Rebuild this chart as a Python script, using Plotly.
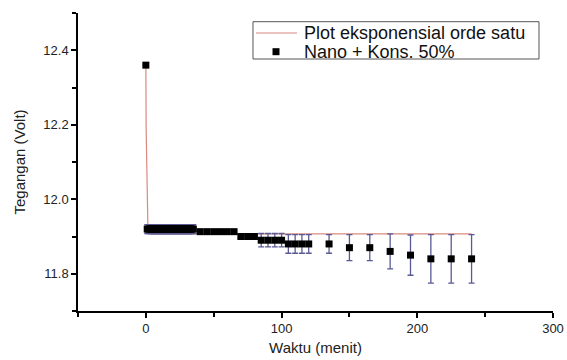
import plotly.graph_objects as go

# ---- data ----
time_min = [0,
            1, 2, 3, 4, 5, 6, 7, 8, 9, 10, 11, 12, 13, 14, 15, 16, 17, 18, 19, 20,
            21, 22, 23, 24, 25, 26, 27, 28, 29, 30, 31, 32, 33, 34, 35,
            40, 45, 50, 55, 60, 65,
            70, 75, 80,
            85, 90, 95, 100,
            105, 110, 115, 120,
            135, 150, 165, 180, 195, 210, 225, 240]
voltage = [12.36,
           11.92, 11.92, 11.92, 11.92, 11.92, 11.92, 11.92, 11.92, 11.92, 11.92,
           11.92, 11.92, 11.92, 11.92, 11.92, 11.92, 11.92, 11.92, 11.92, 11.92,
           11.92, 11.92, 11.92, 11.92, 11.92, 11.92, 11.92, 11.92, 11.92, 11.92,
           11.92, 11.92, 11.92, 11.92, 11.92,
           11.913, 11.913, 11.913, 11.913, 11.913, 11.913,
           11.90, 11.90, 11.90,
           11.89, 11.89, 11.89, 11.89,
           11.88, 11.88, 11.88, 11.88,
           11.88, 11.87, 11.87, 11.86, 11.85, 11.84, 11.84, 11.84]
voltage_err = [0,
               0.012, 0.012, 0.012, 0.012, 0.012, 0.012, 0.012, 0.012, 0.012, 0.012,
               0.012, 0.012, 0.012, 0.012, 0.012, 0.012, 0.012, 0.012, 0.012, 0.012,
               0.012, 0.012, 0.012, 0.012, 0.012, 0.012, 0.012, 0.012, 0.012, 0.012,
               0.012, 0.012, 0.012, 0.012, 0.012,
               0.005, 0.005, 0.005, 0.005, 0.005, 0.005,
               0.005, 0.005, 0.005,
               0.018, 0.018, 0.018, 0.018,
               0.025, 0.025, 0.025, 0.025,
               0.025, 0.035, 0.035, 0.047, 0.054, 0.065, 0.065, 0.065]

fit_time = [0, 0.2, 1.5, 4, 240]
fit_voltage = [12.36, 12.19, 11.93, 11.907, 11.907]

x_ticks = [0, 100, 200, 300]
y_ticks = [11.8, 12.0, 12.2, 12.4]

fit_name = "Plot eksponensial orde satu"
data_name = "Nano + Kons. 50%"

FONT = "Liberation Sans, Arial, sans-serif"
FIT_COLOR = "#d98a80"

fig = go.Figure()
fig.add_trace(go.Scatter(
    x=fit_time, y=fit_voltage, mode="lines", name=fit_name,
    line=dict(color=FIT_COLOR, width=1.2), showlegend=False,
))
fig.add_trace(go.Scatter(
    x=time_min, y=voltage, mode="markers", name=data_name,
    marker=dict(symbol="square", size=7, color="black"),
    error_y=dict(type="data", array=voltage_err, visible=True,
                 color="#5a5a96", thickness=1.3, width=3),
    showlegend=False,
))

# legend box drawn in paper coordinates (compact, like the original)
legend_shapes = [
    dict(type="rect", xref="paper", yref="paper", x0=0.3684, x1=0.9705, y0=0.8456, y1=0.9708,
         line=dict(color="#555", width=1), fillcolor="white", layer="above"),
    dict(type="line", xref="paper", yref="paper", x0=0.3747, x1=0.4611, y0=0.9329, y1=0.9329,
         line=dict(color=FIT_COLOR, width=1.2), layer="above"),
    dict(type="rect", xref="paper", yref="paper", x0=0.4095, x1=0.4242, y0=0.8584, y1=0.8819,
         line=dict(width=0), fillcolor="black", layer="above"),
]
legend_texts = [
    dict(text=fit_name, xref="paper", yref="paper", x=0.4737, y=0.9329,
         xanchor="left", yanchor="middle", showarrow=False, borderpad=0,
         font=dict(size=18, family=FONT, color="#111")),
    dict(text=data_name, xref="paper", yref="paper", x=0.4737, y=0.870,
         xanchor="left", yanchor="middle", showarrow=False, borderpad=0,
         font=dict(size=18, family=FONT, color="#111")),
]

fig.update_layout(
    width=567, height=360,
    margin=dict(l=78, r=14, t=13, b=49),
    paper_bgcolor="white", plot_bgcolor="white",
    font=dict(family=FONT, color="#222"),
    showlegend=False,
    shapes=legend_shapes,
    annotations=legend_texts,
)
fig.update_xaxes(
    range=[-50, 300], tickvals=x_ticks, automargin=False,
    ticks="outside", ticklen=5, tickwidth=1.5, tickcolor="black",
    minor=dict(ticks="outside", dtick=50, tick0=0, ticklen=4, tickwidth=1.5, tickcolor="black"),
    showline=True, linecolor="black", linewidth=1.5,
    showgrid=False, zeroline=False,
    tickfont=dict(size=13, family=FONT, color="#222"),
    title=dict(text="Waktu (menit)", font=dict(size=15, family=FONT, color="#222"), standoff=7),
)
fig.update_yaxes(
    range=[11.7, 12.5], tickvals=y_ticks, tickformat=".1f", automargin=False,
    ticks="outside", ticklen=5, tickwidth=1.5, tickcolor="black",
    minor=dict(ticks="outside", dtick=0.1, tick0=11.7, ticklen=4, tickwidth=1.5, tickcolor="black"),
    showline=True, linecolor="black", linewidth=1.5,
    showgrid=False, zeroline=False,
    tickfont=dict(size=13, family=FONT, color="#222"),
    title=dict(text="Tegangan (Volt)", font=dict(size=15, family=FONT, color="#222"), standoff=14),
)

fig.write_html("out.html")
